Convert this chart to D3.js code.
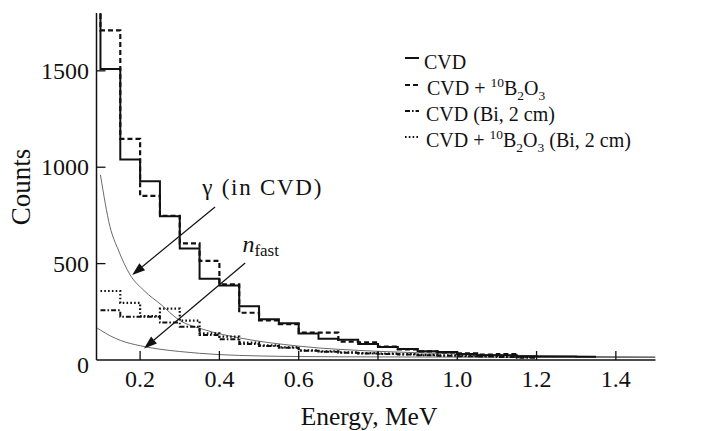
<!DOCTYPE html>
<html><head><meta charset="utf-8">
<script src="https://cdn.jsdelivr.net/npm/d3@7"></script>
<style>body{margin:0;background:#fff}svg{display:block}text{font-family:"Liberation Serif","Times New Roman",serif;fill:#111}</style>
</head><body><svg id="c" width="717" height="431"></svg>
<script>
// ---- data ----
const binStarts = [0.05,0.10,0.15,0.20,0.25,0.30,0.35,0.40,0.45,0.50,0.55,0.60,0.65,0.70,0.75,0.80,0.85,0.90,0.95,1.00,1.05,1.10,1.15,1.20,1.25,1.30];
const binWidth = 0.05;
const cvd      = [1900,1510,1040,927,746,578,422,386,279,212,190,138,110,105,83,68,57,45,42,31,25,24,20,18,18,17];
const cvdB2O3  = [1900,1710,1147,851,748,605,514,392,245,205,186,142,142,95,92,70,55,45,40,34,28,30,null,null,null,null];
const cvdBi    = [null,258,225,225,194,173,130,107,83,73,64,48,43,38,34,31,28,25,22,20,18,16,12,null,null,null];
const cvdB2O3Bi= [null,358,296,228,266,204,138,121,90,76,66,50,45,40,36,33,30,27,24,22,20,18,15,null,null,null];
const gammaE = [0.10,0.124,0.145,0.175,0.21,0.254,0.296,0.364,0.45,0.6,0.8,1.0,1.2,1.5];
const gammaC = [960,692,571,441,360,285,211,156,115,72,45,32,22,16];
const nfastE = [0.092,0.10,0.125,0.15,0.2,0.25,0.3,0.4,0.5,0.6,0.8,1.0,1.2,1.5];
const nfastC = [165,155,125,102,74,56,44,28,21,18,16,15,14,13];
const xTicks = [0.2,0.4,0.6,0.8,1.0,1.2,1.4];
const yTicks = [0,500,1000,1500];
const legendLabels = ["CVD","CVD + B2O3","CVD (Bi, 2 cm)","CVD + B2O3 (Bi, 2 cm)"];

const svg = d3.select("#c");
const x = d3.scaleLinear().domain([0.09,1.5]).range([96.5,655.5]);
const y = d3.scaleLinear().domain([0,1800]).range([360,13]);

svg.append("clipPath").attr("id","clip").append("rect")
  .attr("x",x(0.09)).attr("y",y(1800)).attr("width",x(1.5)-x(0.09)).attr("height",y(0)-y(1800));

const styles = [
  {data:cvd, dash:null, w:2},
  {data:cvdB2O3, dash:"5,3", w:2.2},
  {data:cvdBi, dash:"5,2,1.6,2", w:2},
  {data:cvdB2O3Bi, dash:"1.6,2.2", w:2.2}
];

// smooth curves (thin gray)
const curveLine = d3.line().x(d=>x(d[0])).y(d=>y(d[1])).curve(d3.curveMonotoneX);
const g = svg.append("g").attr("clip-path","url(#clip)");
g.append("path").attr("d",curveLine(gammaE.map((e,i)=>[e,gammaC[i]])))
  .attr("fill","none").attr("stroke","#6a6a6a").attr("stroke-width",1);
g.append("path").attr("d",curveLine(nfastE.map((e,i)=>[e,nfastC[i]])))
  .attr("fill","none").attr("stroke","#6a6a6a").attr("stroke-width",1);

// histograms
const stepLine = d3.line().x(d=>x(d[0])).y(d=>y(d[1])).curve(d3.curveStepAfter);
styles.slice().reverse().forEach(s=>{
  const pts=[];
  s.data.forEach((v,i)=>{ if(v!=null) pts.push([binStarts[i],v]); });
  const last=pts[pts.length-1];
  pts.push([last[0]+binWidth,last[1]]);
  g.append("path").attr("d",stepLine(pts)).attr("fill","none")
    .attr("stroke","#111").attr("stroke-width",s.w)
    .attr("stroke-dasharray",s.dash);
});

// axes
const ax = svg.append("g").attr("stroke","#111");
ax.append("line").attr("x1",x(0.09)).attr("x2",x(0.09)).attr("y1",y(0)).attr("y2",y(1800)).attr("stroke-width",1.5);
ax.append("line").attr("x1",x(0.09)).attr("x2",x(1.5)).attr("y1",y(0)).attr("y2",y(0)).attr("stroke-width",1.5);
xTicks.forEach(t=>{
  ax.append("line").attr("x1",x(t)).attr("x2",x(t)).attr("y1",y(0)).attr("y2",y(0)-9).attr("stroke-width",1.3);
  svg.append("text").attr("x",x(t)).attr("y",387).attr("text-anchor","middle").attr("font-size",24).text(d3.format(".1f")(t));
});
yTicks.forEach(t=>{
  if(t>0) ax.append("line").attr("x1",x(0.09)).attr("x2",x(0.09)+9).attr("y1",y(t)).attr("y2",y(t)).attr("stroke-width",1.3);
  svg.append("text").attr("x",89).attr("y",y(t)+ (t===0?13:8)).attr("text-anchor","end").attr("font-size",24).text(t);
});
svg.append("text").attr("x",369).attr("y",425).attr("text-anchor","middle").attr("font-size",25.5).text("Energy, MeV");
svg.append("text").attr("transform","translate(30,187) rotate(-90)").attr("text-anchor","middle").attr("font-size",27).text("Counts");

// annotations
function arrow(x1,y1,x2,y2){
  const X1=x(x1),Y1=y(y1),X2=x(x2),Y2=y(y2);
  const a=Math.atan2(Y2-Y1,X2-X1), L=13, W=4.5;
  const bx=X2-L*Math.cos(a), by=Y2-L*Math.sin(a);
  svg.append("line").attr("x1",X1).attr("y1",Y1).attr("x2",bx).attr("y2",by).attr("stroke","#111").attr("stroke-width",1.2);
  svg.append("path").attr("d",`M${X2},${Y2}L${bx+W*Math.sin(a)},${by-W*Math.cos(a)}L${bx-W*Math.sin(a)},${by+W*Math.cos(a)}Z`).attr("fill","#111");
}
arrow(0.389,794,0.18,441);
arrow(0.465,503,0.21,60);
svg.append("text").attr("x",x(0.357)).attr("y",y(856)).attr("font-size",23)
  .attr("textLength",119).attr("lengthAdjust","spacing").text("γ (in CVD)");
const nt=svg.append("text").attr("x",x(0.458)).attr("y",y(560)).attr("font-size",24);
nt.append("tspan").attr("font-style","italic").text("n");
nt.append("tspan").attr("font-size",17).attr("dy",4).text("fast");

// legend
const lg = svg.append("g");
const rowY=[69,95,121,147];
const symY=[58,85,111,137];
styles.forEach((s,i)=>{
  lg.append("line").attr("x1",405).attr("x2",419).attr("y1",symY[i]).attr("y2",symY[i])
    .attr("stroke","#111").attr("stroke-width",s.w).attr("stroke-dasharray",s.dash);
});
function chem(t,withBi){
  t.append("tspan").text("CVD + ");
  t.append("tspan").attr("font-size",13.5).attr("dy",-8).text("10");
  t.append("tspan").attr("dy",8).text("B");
  t.append("tspan").attr("font-size",13.5).attr("dy",5).text("2");
  t.append("tspan").attr("dy",-5).text("O");
  t.append("tspan").attr("font-size",13.5).attr("dy",5).text("3");
  if(withBi) t.append("tspan").attr("dy",-5).text(" (Bi, 2 cm)");
}
const fs=20;
lg.append("text").attr("x",424).attr("y",rowY[0]).attr("font-size",fs).text(legendLabels[0]);
chem(lg.append("text").attr("x",427).attr("y",rowY[1]).attr("font-size",fs),false);
lg.append("text").attr("x",426).attr("y",rowY[2]).attr("font-size",fs).text(legendLabels[2]);
chem(lg.append("text").attr("x",426).attr("y",rowY[3]).attr("font-size",fs),true);
</script></body></html>
